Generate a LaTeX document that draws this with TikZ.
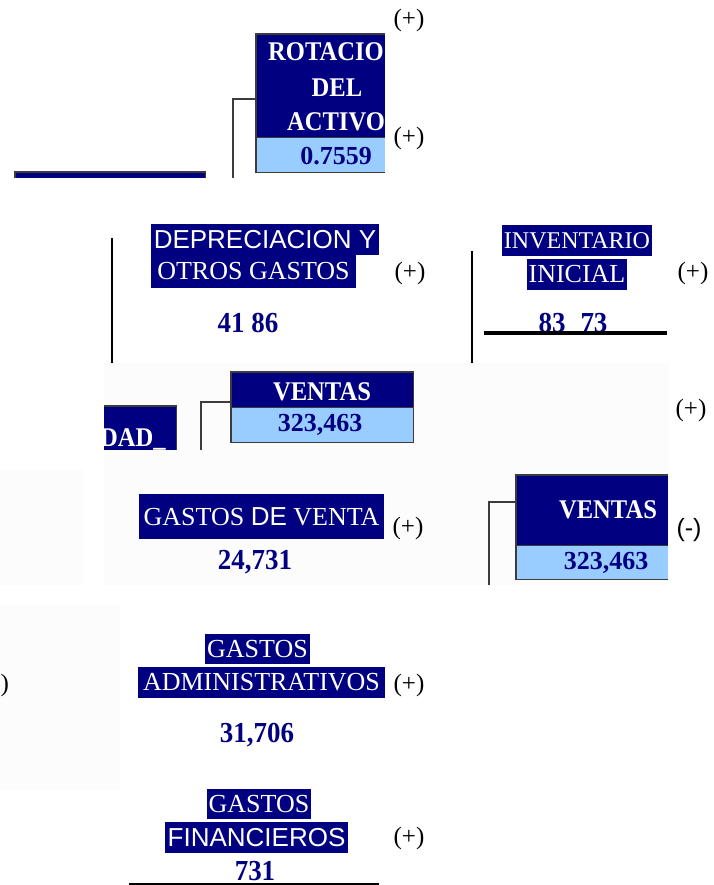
\documentclass[tikz,border=0pt]{standalone}
\usepackage{fontspec}
\setmainfont{Liberation Serif}
\setsansfont{Liberation Sans}
\newfontfamily\boxserif[FakeStretch=0.91]{Liberation Serif}
\newfontfamily\valserif[FakeStretch=0.93]{Liberation Serif}
\definecolor{navy}{RGB}{0,0,128}
\definecolor{lblue}{RGB}{153,204,255}
\definecolor{edgegray}{RGB}{60,60,60}
\definecolor{faint}{RGB}{252,252,252}
\begin{document}
\begin{tikzpicture}[x=1pt,y=-1pt,
  signtxt/.style={inner sep=0pt, font=\fontsize{25}{27}\selectfont},
  hlbox/.style={fill=navy, text=white, inner sep=0pt, font=\fontsize{26}{28}\selectfont},
  valtxt/.style={text=navy, inner sep=0pt, font=\valserif\bfseries\fontsize{29}{31}\selectfont},
  boxword/.style={text=white, inner sep=0pt, font=\boxserif\bfseries\fontsize{27}{29}\selectfont},
  boxnum/.style={text=navy, inner sep=0pt, font=\bfseries\fontsize{26}{28}\selectfont},
  topfill/.style={fill=navy, inner sep=0pt, anchor=north west},
  valfill/.style={fill=lblue, inner sep=0pt, anchor=north west},
  conn/.style={draw=edgegray, line width=1.5pt},
  boxedge/.style={draw=edgegray, line width=1.5pt},
  rulethick/.style={draw=black, line width=2pt},
]
\useasboundingbox (0,0) rectangle (713,885);
\fill[white] (0,0) rectangle (713,885);
% faint background patches
\fill[faint] (104,363) rectangle (669,585);
\fill[faint] (0,470) rectangle (84,585);
\fill[faint] (0,605) rectangle (120,790);

% ---------- ROTACION DEL ACTIVO ----------
\node[topfill, minimum width=129pt, minimum height=103pt] (rotT) at (256,34) {};
\node[valfill, minimum width=129pt, minimum height=35pt] (rotV) at (256,137) {};
\draw[boxedge] (rotT.north east) -- (rotT.north west) -- (rotV.south west) -- (rotV.south east);
\draw[boxedge] (rotT.south west) -- (rotT.south east);
\begin{scope}
\clip (256,34) rectangle (386,172);
\node[boxword] (rot1) at (326,52) {ROTACIO};
\node[boxword] (rot2) at (337,88) {DEL};
\node[boxword] (rot3) at (336,122) {ACTIVO};
\node[boxnum] (rotval) at (336,156) {0.7559};
\end{scope}
\coordinate (c1a) at (256,99);
\coordinate (c1b) at (233,178);
\draw[conn] (c1a) -| (c1b);
% clipped navy bar
\node[topfill, minimum width=190pt, minimum height=6pt] (bar) at (15,172) {};
\draw[boxedge] (bar.south west) -- (bar.north west) -- (bar.north east) -- (bar.south east);

\node[signtxt] (s1) at (409,20) {(+)};
\node[signtxt] (s2) at (409,138) {(+)};

% ---------- DEPRECIACION / INVENTARIO ----------
\coordinate (l1t) at (112,238);
\coordinate (l1b) at (112,363);
\draw[rulethick] (l1t) -- (l1b);
\node[hlbox, minimum width=228pt, minimum height=31pt, font=\sffamily\fontsize{26}{28}\selectfont] (dep1) at (265,239.5) {DEPRECIACION Y};
\node[hlbox, minimum width=205pt, minimum height=33pt] (dep2) at (253.5,271.5) {OTROS GASTOS};
\node[signtxt] (s3) at (410,273) {(+)};
\node[valtxt] (v1) at (248,323) {41 86};

\coordinate (l2t) at (472,251);
\coordinate (l2b) at (472,363);
\draw[rulethick] (l2t) -- (l2b);
\node[hlbox, minimum width=150pt, minimum height=31pt, font=\fontsize{24}{26}\selectfont] (inv1) at (577,240.5) {INVENTARIO};
\node[hlbox, minimum width=100pt, minimum height=31pt] (inv2) at (577,274.5) {INICIAL};
\node[signtxt] (s4) at (693,273) {(+)};
\node[valtxt] (v2) at (573,323) {83\hspace{15pt}73};
\coordinate (u1a) at (484,333);
\coordinate (u1b) at (667,333);
\draw[draw=black, line width=3.5pt] (u1a) -- (u1b);

% ---------- VENTAS (1) and UTILIDAD fragment ----------
\node[topfill, minimum width=182pt, minimum height=35pt] (ven1T) at (231,372) {};
\node[valfill, minimum width=182pt, minimum height=35pt] (ven1V) at (231,407) {};
\draw[boxedge] (ven1T.north west) rectangle (ven1V.south east);
\draw[boxedge] (ven1T.south west) -- (ven1T.south east);
\node[boxword] (ven1w) at (322,392) {VENTAS};
\node[boxnum] (ven1n) at (320,425) {323,463};
\coordinate (c2a) at (231,402);
\coordinate (c2b) at (201,450);
\draw[conn] (c2a) -| (c2b);

\node[topfill, minimum width=72pt, minimum height=44pt] (dad) at (104,406) {};
\draw[boxedge] (dad.north west) -- (dad.north east) -- (dad.south east);
\begin{scope}
\clip (104,406) rectangle (176,450);
\node[boxword, anchor=base west] (dadtxt) at (100,446) {DAD\_};
\end{scope}
\node[signtxt] (s5) at (691,410) {(+)};

% ---------- GASTOS DE VENTA / VENTAS (2) ----------
\node[hlbox, minimum width=245pt, minimum height=45pt] (gv) at (261.5,516.5) {GASTOS {\sffamily DE} VENTA};
\node[signtxt] (s6) at (408,528) {(+)};
\node[valtxt] (v3) at (255,562) {24,731};

\node[topfill, minimum width=152pt, minimum height=70pt] (ven2T) at (516,475) {};
\node[valfill, minimum width=152pt, minimum height=34pt] (ven2V) at (516,545) {};
\draw[boxedge] (ven2T.north east) -- (ven2T.north west) -- (ven2V.south west) -- (ven2V.south east);
\draw[boxedge] (ven2T.south west) -- (ven2T.south east);
\node[boxword] (ven2w) at (608,510) {VENTAS};
\node[boxnum] (ven2n) at (606,563) {323,463};
\coordinate (c3a) at (516,502);
\coordinate (c3b) at (489,585);
\draw[conn] (c3a) -| (c3b);
\node[inner sep=0pt, font=\sffamily\fontsize{25}{27}\selectfont] (s7) at (689,530) {(-)};

% ---------- GASTOS ADMINISTRATIVOS ----------
\node[hlbox, minimum width=105pt, minimum height=30pt] (ga1) at (257.5,649) {GASTOS};
\node[hlbox, minimum width=247pt, minimum height=31pt] (ga2) at (261.5,682.5) {ADMINISTRATIVOS};
\node[signtxt] (s8) at (409,685) {(+)};
\node[signtxt, anchor=west] (frag) at (0.5,685) {)};
\node[valtxt] (v4) at (257,735) {31,706};

% ---------- GASTOS FINANCIEROS ----------
\node[hlbox, minimum width=104pt, minimum height=30pt] (gf1) at (259,804) {GASTOS};
\node[hlbox, minimum width=183pt, minimum height=31pt, font=\sffamily\fontsize{26}{28}\selectfont] (gf2) at (256.5,837.5) {FINANCIEROS};
\node[signtxt] (s9) at (409,838) {(+)};
\node[valtxt] (v5) at (255,871) {731};
\coordinate (u2a) at (129,884);
\coordinate (u2b) at (379,884);
\draw[draw=black, line width=1.5pt] (u2a) -- (u2b);
\end{tikzpicture}
\end{document}
